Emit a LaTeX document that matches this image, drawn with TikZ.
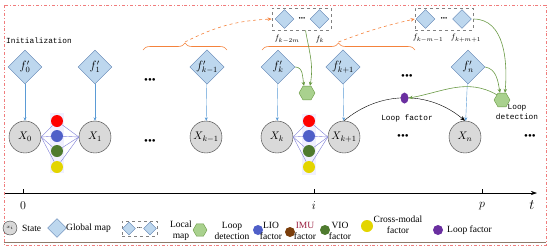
\documentclass[tikz,border=0pt]{standalone}
\usepackage{fontspec}
\setmainfont{Liberation Serif}
\setmonofont{Liberation Mono}
\usepackage{amsmath}
\usetikzlibrary{shapes.geometric,arrows.meta,positioning,calc,decorations.pathreplacing}
\definecolor{mapfill}{HTML}{BDD7EE}
\definecolor{mapline}{HTML}{5B7FB0}
\definecolor{statefill}{HTML}{D9D9D9}
\definecolor{stateline}{HTML}{3A3A3A}
\definecolor{hexfill}{HTML}{A9D18E}
\definecolor{hexline}{HTML}{6A9A45}
\definecolor{facred}{HTML}{FF0000}
\definecolor{facblue}{HTML}{4F5FC8}
\definecolor{facgreen}{HTML}{4E7A2E}
\definecolor{facyellow}{HTML}{E3D500}
\definecolor{facbrown}{HTML}{7A3D0A}
\definecolor{loopviolet}{HTML}{6A2FA0}
\definecolor{braceorange}{HTML}{F4823C}
\definecolor{arrowblue}{HTML}{5B9BD5}
\definecolor{facline}{HTML}{7C7CD6}
\definecolor{framered}{HTML}{F07C7C}
\definecolor{framebrown}{HTML}{8C7B6B}
\definecolor{imutext}{HTML}{9A1F40}

\begin{document}
\begin{tikzpicture}[x=1pt, y=-1pt,
  gmap/.style={diamond, draw=mapline, fill=mapfill, minimum size=34pt, inner sep=0pt, font=\fontsize{12}{12}\selectfont},
  smap/.style={diamond, draw=mapline, fill=mapfill, minimum size=19pt, inner sep=0pt},
  state/.style={circle, draw=stateline, fill=statefill, minimum size=32pt, inner sep=0pt, font=\fontsize{11}{11}\selectfont},
  fac/.style={circle, minimum size=12pt, inner sep=0pt},
  hexa/.style={regular polygon, regular polygon sides=6, draw=hexline, fill=hexfill, minimum size=16pt, inner sep=0pt},
  lmbox/.style={draw=gray, dashed, thick, minimum height=22pt, inner sep=0pt},
  dotrow/.style={inner sep=0pt, font=\fontsize{11}{11}\selectfont},
  ttlab/.style={font=\ttfamily\fontsize{7.8}{10}\selectfont, align=center, inner sep=0pt},
  leg/.style={font=\fontsize{9.5}{11}\selectfont, align=center, inner sep=0pt},
  farrow/.style={draw=arrowblue, -{Stealth[length=3.5pt,width=3pt]}},
  grarrow/.style={draw=hexline, semithick, -{Stealth[length=4pt,width=3.5pt]}},
  orarrow/.style={draw=braceorange, dashed, semithick, -{Stealth[length=4pt,width=3.5pt]}},
  bracedraw/.style={draw=braceorange, semithick, decorate, decoration={brace, amplitude=7pt}},
  >=Stealth
]
\useasboundingbox (0,0) rectangle (550,250);
\draw[framered, thick, dash dot] (4,5) rectangle (546,245);
\draw[framebrown] (4,242) -- (546,242);

% time axis
\coordinate (t0) at (5,193);
\coordinate (t1) at (537,193);
\draw[semithick, -{Stealth[length=6pt,width=4pt]}] (t0) -- (t1);
\foreach \x/\l in {23/0, 314/i, 482/p}{
  \draw (\x,193) -- (\x,189);
  \node[font=\fontsize{13}{13}\selectfont] at (\x,206) {$\l$};
}
\node[font=\fontsize{14}{14}\selectfont] (tl) at (532,205) {$t$};

% global map keyframes
\node[gmap] (f0) at (25,67) {$f'_{0}$};
\node[gmap] (f1) at (95,67) {$f'_{1}$};
\node[gmap] (fkm) at (207,67) {$f'_{k-1}$};
\node[gmap] (fk) at (278,67) {$f'_{k}$};
\node[gmap] (fkp) at (343,67) {$f'_{k+1}$};
\node[gmap] (fn) at (468,67) {$f'_{n}$};
\node[dotrow] (d1) at (150,81) {\textbullet\textbullet\textbullet};
\node[dotrow] (d2) at (407,77) {\textbullet\textbullet\textbullet};

% states
\node[state] (x0) at (25,137) {$X_0$};
\node[state] (x1) at (95,137) {$X_1$};
\node[state] (xkm) at (206,137) {$X_{k-1}$};
\node[state] (xk) at (277,137) {$X_k$};
\node[state] (xkp) at (344,137) {$X_{k+1}$};
\node[state] (xn) at (465,137) {$X_n$};
\node[dotrow] (d3) at (150,142) {\textbullet\textbullet\textbullet};
\node[dotrow] (d4) at (403,137) {\textbullet\textbullet\textbullet};
\node[dotrow] (d5) at (530,137) {\textbullet\textbullet\textbullet};

\draw[farrow] (f0) -- (x0); \draw[farrow] (f1) -- (x1); \draw[farrow] (fkm) -- (xkm);
\draw[farrow] (fk) -- (xk); \draw[farrow] (fkp) -- (xkp); \draw[farrow] (fn) -- (xn);

% factors between states
\fill[blue!6] (50,113) rectangle (64,173);
\fill[blue!6] (302,114) rectangle (316,175);
\foreach \n/\c/\y in {1/facred/121, 2/facblue/136, 3/facgreen/151, 4/facyellow/167}{
  \node[fac, fill=\c] (fa\n) at (57,\y) {};
  \node[fac, fill=\c] (fb\n) at (309,\y) {};
  \draw[facline] (x0.east) -- (fa\n); \draw[facline] (fa\n) -- (x1.west);
  \draw[facline] (xk.east) -- (fb\n); \draw[facline] (fb\n) -- (xkp.west);
}

% local maps
\node[lmbox, minimum width=59pt] (lm1) at (301.5,19) {};
\node[smap] (s1) at (284.5,19) {};
\node[smap] (s2) at (319.5,19) {};
\node[dotrow, font=\fontsize{6.5}{6.5}\selectfont] (d6) at (302,19) {\textbullet\textbullet\textbullet};
\node[font=\fontsize{8}{8}\selectfont] (s1l) at (287,39) {$f_{k-2m}$};
\node[font=\fontsize{8}{8}\selectfont] (s2l) at (320,39) {$f_{k}$};
\node[lmbox, minimum width=58pt] (lm2) at (444,19) {};
\node[smap] (s3) at (425.5,19) {};
\node[smap] (s4) at (462,19) {};
\node[dotrow, font=\fontsize{6.5}{6.5}\selectfont] (d7) at (444,19) {\textbullet\textbullet\textbullet};
\node[font=\fontsize{8}{8}\selectfont] (s3l) at (428,38) {$f_{k-m-1}$};
\node[font=\fontsize{8}{8}\selectfont] (s4l) at (466,38) {$f_{k+m+1}$};

% braces over keyframe groups
\draw[bracedraw] (143,50) -- (227,50);
\coordinate (b1) at (185,42);
\draw[bracedraw] (262,50) -- (415,50);
\coordinate (b2) at (338.5,42);
\draw[orarrow] (b1) to[bend left=12] (lm1.west);
\draw[orarrow] (b2) to[bend left=4] (lm2.west);

\node[ttlab, anchor=west] (init) at (6,41) {Initialization};

% loop detection
\node[hexa] (hx1) at (307,93) {};
\node[hexa] (hx2) at (502,100) {};
\draw[grarrow] ([xshift=4pt]lm1.south) to[out=-80,in=80] ([xshift=3pt]hx1.north);
\draw[grarrow] (fk.east) to[out=0,in=100] ([xshift=-3pt]hx1.north);
\draw[grarrow] (lm2.east) to[out=0,in=85] ([xshift=3pt]hx2.north);
\draw[grarrow] (fn.east) to[out=-10,in=100] ([xshift=-2pt]hx2.north);
\draw[-{Stealth[length=5pt,width=4pt]}] (xkp.north) to[out=40,in=140]
  node[ellipse, fill=loopviolet, minimum width=8pt, minimum height=11pt, inner sep=0pt, pos=0.5] (lf) {} (xn.north);
\draw[grarrow] (hx2.north west) to[out=150,in=10] (lf.east);
\node[ttlab] (lfl) at (407,118) {Loop factor};
\node[ttlab] (ldl) at (517,112) {Loop\\detection};

% legend
\node[circle, draw=stateline, fill=statefill, minimum size=14pt, inner sep=0pt, font=\fontsize{5}{5}\selectfont] (lg1) at (10,228) {$x_i$};
\node[leg, anchor=west] (lg1t) at (22,228) {State};
\node[smap, minimum size=19pt] (lg2) at (57,228) {};
\node[leg, anchor=west] (lg2t) at (66,228) {Global map};
\node[lmbox, thin, minimum width=35pt, minimum height=15pt] (lg3) at (139.5,228.5) {};
\node[smap, minimum size=13pt] (lg3a) at (129,228.5) {};
\node[smap, minimum size=13pt] (lg3b) at (150,228.5) {};
\node[dotrow, font=\fontsize{4.5}{4.5}\selectfont] (lg3c) at (139.5,228.5) {\textbullet\textbullet\textbullet};
\node[leg] (lg3t) at (181,231) {Local\\map};
\node[hexa, minimum size=14pt] (lg4) at (200,230) {};
\node[leg] (lg4t) at (232,231) {Loop\\detection};
\node[fac, fill=facblue, minimum size=10pt] (lg5) at (258,230) {};
\node[leg] (lg5t) at (271,231) {LIO\\factor};
\node[fac, fill=facbrown, minimum size=10pt] (lg6) at (290,232) {};
\node[leg] (lg6t) at (305,231) {\textcolor{imutext}{IMU}\\factor};
\node[fac, fill=facgreen, minimum size=10pt] (lg7) at (325,230) {};
\node[leg] (lg7t) at (340,231) {VIO\\factor};
\node[fac, fill=facyellow, minimum size=12pt] (lg8) at (367,226) {};
\node[leg] (lg8t) at (398,225) {Cross-modal\\factor};
\node[fac, fill=loopviolet, minimum size=10pt] (lg9) at (438,230) {};
\node[leg, anchor=west] (lg9t) at (447,230) {Loop factor};
\end{tikzpicture}
\end{document}
